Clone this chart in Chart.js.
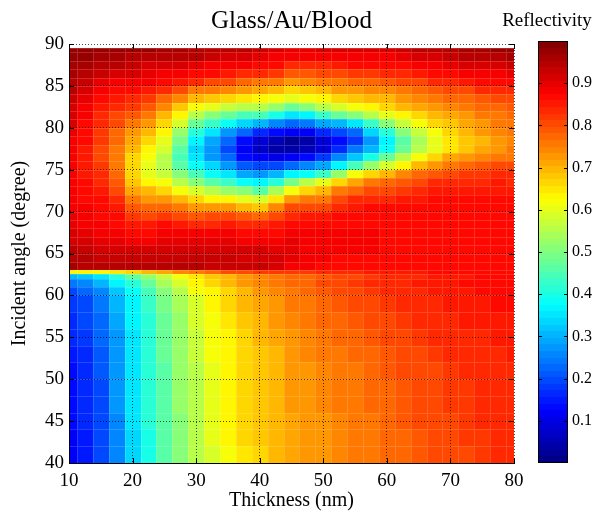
<!DOCTYPE html>
<html>
<head>
<meta charset="utf-8">
<title>Glass/Au/Blood reflectivity</title>
<script src="https://cdn.jsdelivr.net/npm/chart.js@4/dist/chart.umd.min.js"></script>
<style>
  html, body { margin: 0; padding: 0; background: #fff; }
  #wrap { position: relative; width: 598px; height: 515px; }
  #mapChart { position: absolute; left: 0; top: 0; }
  #barChart { position: absolute; left: 500px; top: 0; }
</style>
</head>
<body>
<div id="wrap">
  <canvas id="mapChart" width="598" height="515"></canvas>
  <canvas id="barChart" width="98" height="515"></canvas>
</div>
<script>
// gold film thickness (nm), one column per value
const thickness = [10, 12.5, 15, 17.5, 20, 22.5, 25, 27.5, 30, 32.5, 35, 37.5, 40, 42.5, 45,
                   47.5, 50, 52.5, 55, 57.5, 60, 62.5, 65, 67.5, 70, 72.5, 75, 77.5, 80];

// incident angle bin edges (degree), top row first
const angleEdges = [89.5, 89, 88, 87, 86, 85, 84, 83, 82, 81, 80, 79, 78, 77, 76, 75, 74, 73, 72, 71,
                    70, 69, 68, 67, 66, 65, 64, 63, 62.5, 62, 61, 60, 58, 56, 54, 52, 50, 48, 46, 44, 42, 40];

// reflectivity in percent, rows follow angleEdges (top to bottom), columns follow thickness
const reflectivity = [
  [97,97,97,97,97,97,96,96,95,95,95,94,93,92,90,90,91,91,91,91,92,93,94,94,95,96,96,97,97],
  [97,97,96,96,95,95,95,94,94,93,92,91,90,89,88,88,88,88,89,89,89,90,91,92,93,94,94,95,96],
  [96,96,95,94,93,92,92,91,90,89,89,88,87,86,84,84,84,85,86,86,86,87,88,89,90,91,92,92,93],
  [96,95,93,92,91,90,89,88,87,86,85,84,84,82,79,79,80,81,82,82,83,84,85,86,87,88,89,89,90],
  [95,93,90,89,89,88,87,85,83,81,80,78,76,75,73,74,75,76,77,78,79,80,81,83,84,85,86,86,87],
  [94,92,88,87,87,85,83,80,76,75,74,72,71,69,67,68,70,72,73,74,74,76,78,79,80,81,83,84,84],
  [93,90,87,85,84,82,78,74,70,68,66,65,64,62,60,61,64,66,68,69,70,72,74,76,77,78,79,80,81],
  [92,89,85,83,82,79,74,68,62,60,57,55,55,52,48,50,55,58,61,64,66,69,71,73,74,76,77,78,79],
  [92,88,84,81,79,76,70,63,55,51,48,45,44,40,35,37,43,47,50,55,60,64,67,69,71,73,75,76,77],
  [91,87,83,80,76,73,67,58,48,43,39,33,30,26,22,24,29,31,35,43,50,57,62,66,68,71,73,75,76],
  [90,86,82,78,73,69,64,53,41,35,28,22,17,14,11,12,17,20,23,33,41,51,57,62,66,69,72,74,75],
  [89,86,82,77,71,66,60,49,36,29,22,14, 8, 5, 3, 4, 8,13,18,28,37,46,54,60,65,68,70,73,74],
  [89,85,81,76,69,63,58,46,34,27,20,11, 7, 4, 4, 5, 9,16,24,31,39,48,55,60,65,68,71,73,75],
  [88,85,81,76,67,61,56,45,35,28,22,14,12,10,11,14,18,25,32,40,47,55,61,66,71,73,74,76,76],
  [88,85,82,76,66,60,55,46,39,33,28,21,20,20,22,25,29,36,45,52,58,64,69,72,76,78,79,80,80],
  [88,85,83,77,66,60,57,50,44,39,35,29,27,31,36,39,43,52,61,67,70,74,77,79,81,82,82,83,83],
  [88,86,84,79,68,64,62,56,51,46,43,38,36,42,49,55,60,67,71,75,77,79,81,83,84,84,84,85,84],
  [88,86,85,81,71,69,67,62,58,55,53,50,46,54,61,66,70,75,78,80,81,82,84,85,85,85,85,85,85],
  [89,87,86,83,75,73,72,69,67,64,63,60,58,65,72,75,76,80,83,84,84,85,85,86,86,86,86,86,86],
  [89,88,87,85,79,77,77,75,73,72,73,70,68,74,80,81,81,84,85,86,86,86,86,86,86,86,86,86,86],
  [90,88,87,86,82,81,82,81,79,80,81,79,78,81,84,85,85,86,87,87,87,87,86,86,86,86,86,86,86],
  [90,89,88,87,85,85,86,85,84,84,85,84,83,85,87,87,87,87,87,87,87,87,87,86,86,86,86,86,86],
  [91,90,89,88,87,87,88,88,88,88,88,87,87,87,88,88,88,88,88,88,87,87,87,87,86,86,86,86,86],
  [92,91,90,90,89,89,90,90,90,90,90,89,89,89,90,89,88,88,88,88,87,87,87,87,86,86,86,86,86],
  [94,93,92,92,91,91,92,92,92,92,92,91,91,90,90,89,88,88,88,88,87,87,87,87,87,86,86,86,86],
  [95,94,93,93,93,93,93,93,93,93,93,92,92,91,90,89,88,87,87,87,87,87,87,86,86,86,86,86,86],
  [96,95,95,95,95,95,95,94,94,93,93,93,93,91,89,88,87,86,86,86,86,86,86,86,86,86,86,86,86],
  [63,63,64,65,66,69,71,74,76,78,80,81,82,82,82,82,83,84,84,85,85,85,85,86,86,86,86,86,86],
  [30,32,35,42,48,53,57,61,65,68,70,72,74,76,77,78,79,80,81,82,83,84,84,85,85,85,86,86,86],
  [24,26,30,36,42,48,54,59,63,66,69,72,74,76,77,78,80,81,82,83,84,84,85,85,85,86,86,86,86],
  [20,22,26,32,38,45,50,56,61,64,67,70,72,74,76,77,79,80,81,82,83,84,84,85,85,85,86,86,86],
  [18,20,24,30,37,43,49,54,59,63,66,69,71,73,75,76,78,79,80,81,82,83,84,84,85,85,85,86,86],
  [17,19,23,29,36,42,48,53,58,62,65,68,70,72,74,75,77,78,79,80,81,82,83,84,84,85,85,85,85],
  [16,18,22,28,35,41,47,53,57,61,64,67,69,71,73,74,76,77,78,79,80,81,82,83,83,84,84,85,85],
  [15,17,21,27,35,41,47,52,57,61,64,66,68,70,72,74,75,76,77,78,79,80,81,82,83,83,84,84,85],
  [14,17,21,27,35,41,46,52,56,60,63,66,68,70,72,73,74,75,76,77,79,80,80,81,82,83,83,84,84],
  [13,16,20,27,35,41,46,52,56,60,63,66,68,70,72,73,74,75,76,77,78,79,80,81,82,82,83,83,84],
  [13,16,20,27,35,41,46,52,56,60,63,66,68,70,72,73,74,75,76,77,78,79,80,81,82,82,83,83,84],
  [13,16,20,26,35,41,46,51,56,60,63,66,68,70,71,72,73,74,75,76,78,79,80,81,81,82,83,83,83],
  [12,15,20,26,34,40,46,51,56,60,63,66,68,70,71,72,73,74,75,76,77,78,79,80,81,82,82,83,83],
  [12,15,19,26,34,40,46,51,55,59,62,65,67,69,71,72,73,74,75,76,77,78,79,80,81,81,82,83,83]
];

const thicknessTicks = [10, 20, 30, 40, 50, 60, 70, 80];
const angleTicks = [40, 45, 50, 55, 60, 65, 70, 75, 80, 85, 90];
const colorbarTicks = [0.1, 0.2, 0.3, 0.4, 0.5, 0.6, 0.7, 0.8, 0.9];
const colorLevels = 64;

Chart.defaults.font.family = "'Liberation Serif', 'Times New Roman', serif";
Chart.defaults.color = '#000';

function clamp01(v) { return Math.min(1, Math.max(0, v)); }

// MATLAB style jet, quantised to 64 levels
function jet(v) {
  const level = Math.min(colorLevels - 1, Math.max(0, Math.floor(v * colorLevels)));
  const t = (level + 0.5) / colorLevels;
  const r = clamp01(1.5 - Math.abs(4 * t - 3));
  const g = clamp01(1.5 - Math.abs(4 * t - 2));
  const b = clamp01(1.5 - Math.abs(4 * t - 1));
  return 'rgb(' + Math.round(r * 255) + ',' + Math.round(g * 255) + ',' + Math.round(b * 255) + ')';
}

function columnEdges(i) {
  const lo = i === 0 ? thickness[0] : (thickness[i - 1] + thickness[i]) / 2;
  const hi = i === thickness.length - 1 ? thickness[i] : (thickness[i] + thickness[i + 1]) / 2;
  return [lo, hi];
}

const heatmapPlugin = {
  id: 'heatmap',
  beforeDatasetsDraw(chart) {
    const { ctx, chartArea, scales: { x, y } } = chart;
    ctx.save();
    ctx.beginPath();
    ctx.rect(chartArea.left, chartArea.top, chartArea.width, chartArea.height);
    ctx.clip();
    reflectivity.forEach((row, r) => {
      const y0 = Math.round(y.getPixelForValue(angleEdges[r]));
      const y1 = Math.round(y.getPixelForValue(angleEdges[r + 1]));
      row.forEach((val, c) => {
        const [lo, hi] = columnEdges(c);
        const x0 = Math.round(x.getPixelForValue(lo));
        const x1 = Math.round(x.getPixelForValue(hi));
        ctx.fillStyle = jet(val / 100);
        ctx.fillRect(x0, y0, x1 - x0, y1 - y0);
        ctx.strokeStyle = 'rgba(255,255,255,0.16)';
        ctx.lineWidth = 1;
        ctx.strokeRect(x0 + 0.5, y0 + 0.5, x1 - x0, y1 - y0);
      });
    });
    ctx.restore();
  },
  afterDraw(chart) {
    // inward tick marks on all four sides
    const { ctx, chartArea, scales: { x, y } } = chart;
    ctx.save();
    ctx.strokeStyle = '#000';
    ctx.lineWidth = 1;
    ctx.beginPath();
    thicknessTicks.forEach(v => {
      const px = Math.round(x.getPixelForValue(v)) + 0.5;
      ctx.moveTo(px, chartArea.bottom); ctx.lineTo(px, chartArea.bottom - 5);
      ctx.moveTo(px, chartArea.top); ctx.lineTo(px, chartArea.top + 5);
    });
    angleTicks.forEach(v => {
      const py = Math.round(y.getPixelForValue(v)) + 0.5;
      ctx.moveTo(chartArea.left, py); ctx.lineTo(chartArea.left + 5, py);
      ctx.moveTo(chartArea.right, py); ctx.lineTo(chartArea.right - 5, py);
    });
    ctx.stroke();
    ctx.restore();
  }
};

const colorbarPlugin = {
  id: 'colorbar',
  beforeDatasetsDraw(chart) {
    const { ctx, chartArea, scales: { y } } = chart;
    ctx.save();
    for (let i = 0; i < colorLevels; i++) {
      const y0 = Math.round(y.getPixelForValue(i / colorLevels));
      const y1 = Math.round(y.getPixelForValue((i + 1) / colorLevels));
      ctx.fillStyle = jet((i + 0.5) / colorLevels);
      ctx.fillRect(chartArea.left, y1, chartArea.width, y0 - y1);
    }
    ctx.strokeStyle = '#000';
    ctx.lineWidth = 1;
    ctx.strokeRect(chartArea.left + 0.5, chartArea.top + 0.5, chartArea.width - 1, chartArea.height - 1);
    ctx.beginPath();
    colorbarTicks.forEach(v => {
      const py = Math.round(y.getPixelForValue(v)) + 0.5;
      ctx.moveTo(chartArea.left, py); ctx.lineTo(chartArea.left + 4, py);
      ctx.moveTo(chartArea.right, py); ctx.lineTo(chartArea.right - 4, py);
    });
    ctx.stroke();
    ctx.restore();
  },
  afterDraw(chart) {
    const { ctx, chartArea } = chart;
    ctx.save();
    ctx.font = "19px 'Liberation Serif', 'Times New Roman', serif";
    ctx.fillStyle = '#000';
    ctx.textAlign = 'center';
    ctx.textBaseline = 'middle';
    ctx.fillText('Reflectivity', chartArea.left + 9, 21);
    ctx.restore();
  }
};

new Chart(document.getElementById('mapChart'), {
  type: 'scatter',
  data: { datasets: [] },
  options: {
    responsive: false,
    animation: false,
    layout: { padding: { left: 0, top: 0, right: 84, bottom: 0 } },
    plugins: {
      legend: { display: false },
      tooltip: { enabled: false },
      title: {
        display: true,
        text: 'Glass/Au/Blood',
        fullSize: false,
        color: '#000',
        font: { size: 25, weight: 'normal' },
        padding: { top: 6, bottom: 8 }
      }
    },
    scales: {
      x: {
        type: 'linear',
        min: 10,
        max: 80,
        afterBuildTicks: s => { s.ticks = thicknessTicks.map(v => ({ value: v })); },
        afterFit: s => { s.height = 52; },
        ticks: { color: '#000', font: { size: 19 }, padding: 7, maxRotation: 0, autoSkip: false },
        grid: { color: 'rgba(0,0,0,0.7)', drawTicks: false, z: 1 },
        border: { display: true, color: '#000', width: 1, dash: [1, 2], z: 2 },
        title: { display: true, text: 'Thickness (nm)', color: '#000', font: { size: 20 }, padding: { top: 0, bottom: 2 } }
      },
      y: {
        type: 'linear',
        min: 40,
        max: 90,
        afterBuildTicks: s => { s.ticks = angleTicks.map(v => ({ value: v })); },
        afterFit: s => { s.width = 69; },
        ticks: { color: '#000', font: { size: 19 }, padding: 5, autoSkip: false },
        grid: { color: 'rgba(0,0,0,0.7)', drawTicks: false, z: 1 },
        border: { display: true, color: '#000', width: 1, dash: [1, 2], z: 2 },
        title: { display: true, text: 'Incident angle (degree)', color: '#000', font: { size: 20 }, padding: { top: 8, bottom: 0 } }
      }
    }
  },
  plugins: [heatmapPlugin]
});

new Chart(document.getElementById('barChart'), {
  type: 'scatter',
  data: { datasets: [] },
  options: {
    responsive: false,
    animation: false,
    layout: { padding: { left: 38, top: 41, right: 0, bottom: 52 } },
    plugins: { legend: { display: false }, tooltip: { enabled: false }, title: { display: false } },
    scales: {
      x: { type: 'linear', display: false, min: 0, max: 1 },
      y: {
        type: 'linear',
        position: 'right',
        min: 0,
        max: 1,
        afterBuildTicks: s => { s.ticks = colorbarTicks.map(v => ({ value: v })); },
        afterFit: s => { s.width = 30; },
        ticks: { color: '#000', font: { size: 16 }, padding: 4, callback: v => v.toFixed(1) },
        grid: { display: false, drawTicks: false },
        border: { display: false }
      }
    }
  },
  plugins: [colorbarPlugin]
});
</script>
</body>
</html>
